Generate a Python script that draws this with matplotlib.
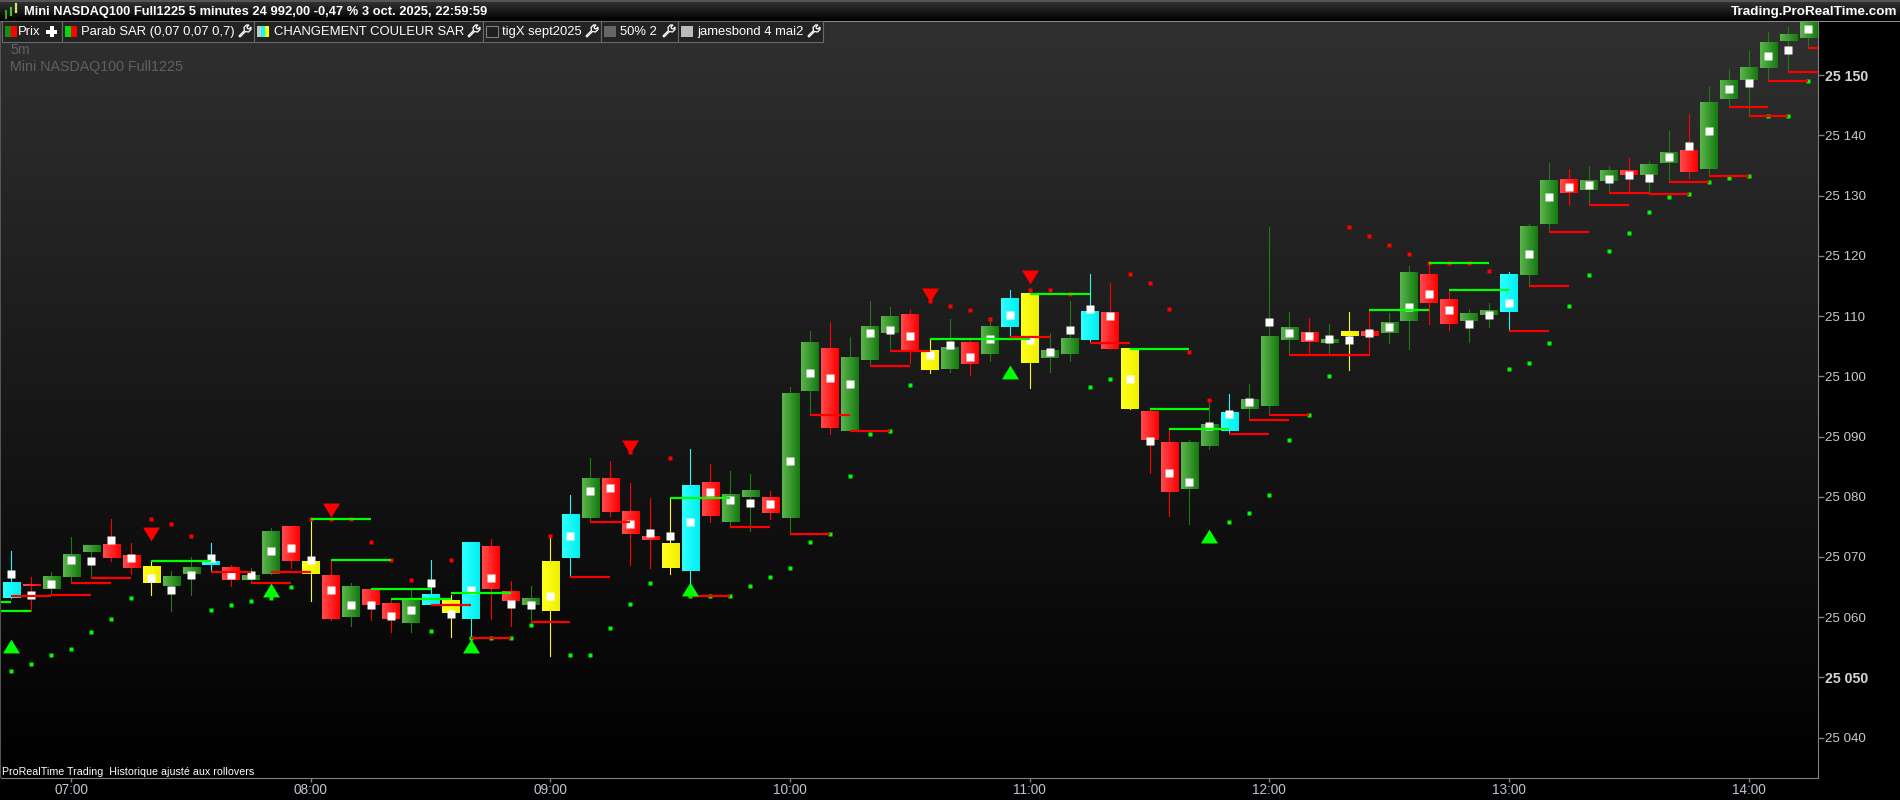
import numpy as np
import matplotlib
matplotlib.use('Agg')
import matplotlib.pyplot as plt
from matplotlib.colors import LinearSegmentedColormap
from matplotlib.patches import Polygon, Rectangle

plt.rcParams['font.family'] = ['Liberation Sans', 'DejaVu Sans']

# all prices are points above 25 000
base_price = 25000

colours = list('crggg' 'rrygg' 'crggr' 'yrgrr' 'gcycr' 'rgycg' 'rrryc' 'rggrg'
               'grggg' 'rygrg' 'cyggc' 'ryrrg' 'gcggg' 'rgyrg' 'grrgg' 'cggrg'
               'grggr' 'ggggg' 'g')
opens = [63.25, 65.5, 64.75, 66.75, 70.75, 72, 70.25, 68.5, 65.25, 67.25,
         68.75, 68.25, 66.25, 67.25, 75, 69.25, 67, 60, 64.5, 62.25,
         59, 62, 62.75, 59.75, 71.75, 64.25, 62, 69.25, 69.75, 76.5,
         83, 77.5, 73.25, 72.25, 67.75, 82.25, 75.75, 80, 79.75, 76.5,
         97.5, 104.75, 91, 102.75, 107.25, 110.25, 104.25, 101.25, 105.5, 103.75,
         108.25, 113.75, 103, 103.75, 106, 110.5, 104.5, 94.25, 89, 81.25,
         88.5, 91, 94.5, 95, 106, 107.25, 105.5, 107.5, 107.5, 107.25,
         109.25, 117, 112.75, 109.25, 110.25, 110.75, 116.75, 125.25, 132.75, 131,
         132.5, 134.25, 133.5, 135.5, 137.5, 134.5, 146, 149.25, 151.25, 155.75,
         156.25]
closes = [65.75, 65.25, 66.75, 70.5, 71.75, 69.75, 68.25, 65.75, 66.75, 68.25,
          69.25, 66.25, 67, 74.25, 69.25, 67.25, 59.75, 65, 62, 59.75,
          62.75, 63.75, 60.75, 72.5, 64.75, 62.75, 63, 61, 77, 83,
          77.5, 73.75, 72.75, 68.25, 82, 76.75, 80.25, 81, 77.25, 97.25,
          105.5, 91.5, 103.25, 108.25, 110, 104.25, 101, 104.75, 102, 108.25,
          113, 102.25, 104.25, 106.25, 110.75, 104.5, 94.5, 89.5, 80.75, 89,
          92, 94, 96, 106.5, 108, 105.75, 106, 106.75, 106.75, 109,
          117.25, 112.25, 108.75, 110.5, 111, 117, 124.75, 132.5, 130.5, 132.5,
          134.25, 133.5, 135.25, 137.25, 134, 145.5, 149, 151.25, 155.5, 156.75,
          159]
highs = [71, 66.75, 67.5, 73.25, 72, 76.25, 72.25, 69.25, 67.75, 70,
         72.25, 68.75, 68.25, 74.75, 75, 76.25, 69.25, 65.75, 64.5, 63,
         64.75, 69.5, 63.75, 72.5, 73, 66, 65.25, 73.5, 80.25, 86.5,
         86, 82.25, 79.75, 79.75, 88, 85.5, 84.25, 83.75, 81, 98.25,
         107.5, 109, 106.5, 112.5, 111.5, 111, 106, 109.5, 106, 109.5,
         114.25, 113.75, 107.25, 112.5, 117, 115.5, 104.5, 94.5, 91.25, 89.5,
         95.5, 97, 98.75, 124.75, 110.75, 109.75, 108.75, 110.75, 111, 110.5,
         118.25, 118.75, 114.25, 111.25, 112.25, 117.25, 125.25, 135.5, 134.5, 135,
         135, 136.25, 135.75, 140.75, 143.5, 148, 151, 154, 157.25, 158,
         159]
lows = [63.25, 61, 63.75, 65.75, 66.5, 69.25, 67.25, 63.75, 61, 63.75,
        67.75, 65.25, 65.75, 67.25, 68.25, 62.75, 59.5, 58.5, 59.5, 57.5,
        57.5, 62, 56.75, 56.25, 59.75, 58.5, 59.25, 53.5, 66.75, 75.75,
        76.75, 68.75, 68.25, 67.25, 65.25, 75.75, 75, 74.25, 76.25, 73.75,
        93.5, 90.5, 91, 101.75, 104.25, 102.25, 100.5, 100.75, 100.25, 102.5,
        106.5, 98, 100.75, 102.5, 105.75, 104.5, 94.5, 84, 76.75, 75.5,
        88, 90.5, 92.75, 93.5, 103.5, 103.75, 103.5, 101, 103.5, 105.5,
        104.5, 108.75, 107.75, 105.75, 108.25, 107.75, 115, 124, 128.5, 128.5,
        130.5, 130.5, 130.25, 132.25, 133, 133.25, 144.75, 143.25, 149, 150.5,
        154.5]
white_marks = [67.25, 63.75, 65.5, 69.5, 69.25, 72.75, 69.75, 66.5, 64.5, 67,
               69.75, 67, 67, 71, 71.5, 69.5, 64.5, 62, 62, 60.25,
               61.25, 65.75, 60.5, 64.5, 66.5, 62.25, 62, 63.5, 73.5, 81,
               81.5, 75.5, 74, 73.5, 75.75, 80.75, 79.5, 79, 78.75, 86,
               100.5, 99.75, 98.75, 107.25, 107.75, 106.75, 103.5, 105.25, 103.25, 106.25,
               110.25, 106, 104, 107.75, 111.25, 110, 99.5, 89.25, 84, 82.5,
               91.75, 93.75, 95.75, 109, 107.25, 106.75, 106.25, 106, 107.25, 108.25,
               111.5, 113.75, 111, 108.75, 110.25, 112.25, 120.25, 129.75, 131.5, 131.75,
               132.75, 133.5, 133, 136.5, 138.25, 140.75, 147.75, 148.75, 153.25, 154.25,
               157.75]

sar_up_idx = [0, 1, 2, 3, 4, 5, 6, 10, 11, 12, 13, 14, 21, 23, 24, 25, 26, 28, 29, 30,
              31, 32, 34, 35, 36, 37, 38, 39, 40, 41, 42, 43, 44, 45, 54, 55, 61, 62, 63, 64,
              65, 66, 75, 76, 77, 78, 79, 80, 81, 82, 83, 84, 85, 86, 87, 88, 89, 90]
sar_up = [51, 52.25, 53.75, 54.75, 57.5, 59.75, 63.25, 61.25, 62, 62.75, 63.25, 65, 57.75, 56.5, 56.5, 56.5, 58.75, 53.75, 53.75, 58.25,
          62.25, 65.75, 63.5, 63.5, 63.5, 65.25, 66.75, 68.25, 72.5, 73.75, 83.5, 90.5, 91, 98.5, 98.25, 99.5, 75.75, 77.25, 80.25, 89.5,
          93.5, 100, 101.25, 102.25, 105.5, 111.75, 116.75, 120.75, 123.75, 127.25, 129.75, 130.25, 132.25, 133, 133.25, 143.25, 143.25, 149]
sar_down_idx = [7, 8, 9, 15, 16, 17, 18, 19, 20, 22, 27, 31, 33, 46, 47, 48, 49, 51, 52, 53,
                56, 57, 58, 59, 60, 67, 68, 69, 70, 71, 72, 73, 74]
sar_down = [76.25, 75.5, 73.5, 76.25, 76.25, 76.25, 72.5, 69.5, 66.25, 69.5, 73.5, 87.5, 86.5, 112.5, 111.75, 111, 109.5, 114.25, 114.25, 113.75,
            117, 115.5, 111.25, 104, 96, 124.75, 123.25, 121.75, 120.25, 118.75, 118.75, 118.75, 117.5]

green_start = [-1, -1, 7, 15, 16, 18, 19, 22, 33, 46, 51, 56, 57, 58, 68, 71, 72]
green_stop = [0, 1, 10, 18, 19, 21, 22, 25, 36, 51, 54, 59, 60, 61, 71, 74, 75]
green_level = [62.5, 61, 69.25, 76.25, 69.5, 64.75, 63, 64, 79.75, 106.25, 113.75, 104.5, 94.5, 91.25, 111, 118.75, 114.25]
red_start = [0, 2, 3, 4, 10, 12, 13, 21, 23, 26, 28, 29, 34, 36, 39, 40, 42, 43, 44, 50, 54,
             61, 62, 63, 64, 75, 76, 77, 79, 80, 82, 83, 85, 86, 87, 88, 89, 90]
red_stop = [2, 4, 5, 6, 12, 14, 15, 23, 25, 28, 30, 31, 36, 38, 41, 42, 44, 45, 46, 52, 56,
            63, 64, 65, 68, 77, 78, 79, 81, 82, 84, 85, 87, 88, 89, 90, 91, 92]
red_level = [63.5, 63.75, 65.75, 66.5, 67.5, 65.75, 67.5, 62, 56.5, 59.25, 66.75, 75.75, 63.5, 75, 73.75, 93.5, 91, 101.75, 104.25, 106.5, 105.5,
             90.5, 92.75, 93.5, 103.5, 107.5, 115, 124, 128.5, 130.5, 130.25, 132.25, 133.25, 144.75, 143.25, 149, 150.5, 154.5]

arrow_up_idx = [0, 13, 23, 34, 50, 60]
arrow_up = [55.25, 64.5, 55.25, 64.75, 100.75, 73.5]
arrow_down_idx = [7, 16, 31, 46, 51]
arrow_down = [73.75, 77.75, 88.25, 113.5, 116.5]

time_ticks = [3, 15, 27, 39, 51, 63, 75, 87]
time_labels = ['07:00', '08:00', '09:00', '10:00', '11:00', '12:00', '13:00', '14:00']
price_ticks = [25040, 25050, 25060, 25070, 25080, 25090, 25100, 25110, 25120, 25130, 25140, 25150]

body_maps = {
    'g': LinearSegmentedColormap.from_list('g', ['#5cb54c', '#147a10']),
    'r': LinearSegmentedColormap.from_list('r', ['#ff4a4a', '#ff0000']),
    'c': LinearSegmentedColormap.from_list('c', ['#30ffff', '#00f0f0']),
    'y': LinearSegmentedColormap.from_list('y', ['#ffff20', '#f0f000']),
}
wick_colours = {'g': '#1f7a12', 'r': '#ff0000', 'c': '#30f0f0', 'y': '#f8f830'}
gradient = np.linspace(0, 1, 32).reshape(1, -1)

fig = plt.figure(figsize=(19, 8), dpi=100, facecolor='black')
ax = fig.add_axes([1 / 1900, 22 / 800, 1817 / 1900, 757 / 800], facecolor='black')

xlim = (-0.52, 90.48)
ylim = (25033.3, 25159)

ax.imshow(np.linspace(1, 0, 256).reshape(-1, 1), extent=(xlim[0], xlim[1], ylim[0], ylim[1]),
          aspect='auto', cmap=LinearSegmentedColormap.from_list('bg', ['#000000', '#303030']),
          vmin=0, vmax=1, zorder=0)

for i, c in enumerate(colours):
    op = opens[i] + base_price
    cl = closes[i] + base_price
    ax.plot([i, i], [lows[i] + base_price, highs[i] + base_price], color=wick_colours[c], lw=0.8, zorder=2)
    ax.imshow(gradient, extent=(i - 0.43, i + 0.43, min(op, cl), max(op, cl)), aspect='auto',
              cmap=body_maps[c], zorder=3, interpolation='bilinear')

ax.plot(range(len(white_marks)), np.array(white_marks) + base_price, ls='none', marker='s', ms=5.6,
        mec='none', color='white', zorder=4)
ax.plot(sar_up_idx, np.array(sar_up) + base_price, ls='none', marker='s', ms=3.4, mec='none', color='#00ff00', zorder=5)
ax.plot(sar_down_idx, np.array(sar_down) + base_price, ls='none', marker='s', ms=3.4, mec='none', color='#ff0000', zorder=5)

for a, b, lv in zip(green_start, green_stop, green_level):
    ax.plot([a, b], [lv + base_price] * 2, color='#00ff00', lw=1.6, solid_capstyle='butt', zorder=6)
for a, b, lv in zip(red_start, red_stop, red_level):
    ax.plot([a, b], [lv + base_price] * 2, color='#ff0000', lw=1.6, solid_capstyle='butt', zorder=6)

up_shape = [(-1, -0.82), (1, -0.82), (0, 0.82)]
down_shape = [(-1, 0.82), (1, 0.82), (0, -0.82)]
ax.plot(arrow_up_idx, np.array(arrow_up) + base_price, ls='none', marker=up_shape, ms=12.2, mec='none', color='#00ff00', zorder=7)
ax.plot(arrow_down_idx, np.array(arrow_down) + base_price, ls='none', marker=down_shape, ms=12.2, mec='none', color='#ff0000', zorder=7)

ax.set_xlim(xlim)
ax.set_ylim(ylim)
ax.set_xticks(time_ticks)
ax.set_xticklabels(time_labels)
ax.set_yticks(price_ticks)
ax.set_yticklabels([f'25 {p - 25000:03d}' for p in price_ticks])
ax.yaxis.tick_right()
ax.tick_params(axis='x', colors='#808080', length=3, width=1, pad=0.6, labelsize=9.8, labelcolor='#bcc6d0')
ax.tick_params(axis='y', colors='#808080', length=4.5, width=1, pad=0.6, labelsize=9.6, labelcolor='#c8c8c8')
for lab, p in zip(ax.get_yticklabels(), price_ticks):
    if p in (25050, 25150):
        lab.set_fontweight('bold')
        lab.set_fontsize(10.2)
        lab.set_color('#d4d4d4')
for side in ('left', 'top'):
    ax.spines[side].set_visible(False)
for side in ('right', 'bottom'):
    ax.spines[side].set_color('#808080')

# window furniture, laid out in screen pixels
ui = fig.add_axes([0, 0, 1, 1], facecolor='none', zorder=10)
ui.axis('off')
ui.imshow(np.linspace(0, 1, 32).reshape(-1, 1), extent=(0, 1900, 21, 1), aspect='auto',
          cmap=LinearSegmentedColormap.from_list('hd', ['#333333', '#000000']))
ui.add_patch(Rectangle((0, 0), 1900, 1.5, color='#555555', lw=0))
ui.add_patch(Rectangle((0, 20.5), 1900, 1, color='#8a8a8a', lw=0))
ui.add_patch(Rectangle((0, 21), 1, 757, color='#555555', lw=0))
ui.set_xlim(0, 1900)
ui.set_ylim(800, 0)

# little candle logo
ui.plot([6, 6], [11, 18], color='#2e9e28', lw=1.6)
ui.plot([11, 11], [8, 15], color='#50c040', lw=1.6)
ui.plot([16, 16], [4, 12], color='#d8e070', lw=1.6)

ui.text(24, 11.5, 'Mini NASDAQ100 Full1225 5 minutes 24 992,00 -0,47 % 3 oct. 2025, 22:59:59',
        color='white', fontsize=9.25, fontweight='bold', va='center', ha='left')
ui.text(1897, 11.5, 'Trading.ProRealTime.com', color='white', fontsize=9.7, fontweight='bold', va='center', ha='right')

box_edges = [2, 62, 254, 483, 601, 678, 823]
box_text = ['Prix', 'Parab SAR (0,07 0,07 0,7)', 'CHANGEMENT COULEUR SAR', 'tigX sept2025', '50% 2', 'jamesbond 4 mai2']
box_text_x = [18, 81, 274, 502, 620, 697]
box_swatch = [['#1a8a14', '#ff0000'], ['#00e000', '#ff0000'], ['#c8c8c8', '#00ffff', '#ffff00'], ['#1f1f1f'], ['#666666'], ['#bbbbbb']]


def wrench(x, y):
    pts = [(1, 12), (0, 11), (5.5, 5.5), (5, 2.5), (7.5, 0), (10, 0), (8, 2), (8.5, 3.5), (10, 4), (12, 2), (12, 4.5),
           (9.5, 7), (6.5, 6.5)]
    ui.add_patch(Polygon([(x + a, y + b) for a, b in pts], closed=True, fc='#222222', ec='white', lw=0.9))


for k, label in enumerate(box_text):
    ui.add_patch(Rectangle((box_edges[k], 21), box_edges[k + 1] - box_edges[k], 20.5, fc='#232323', ec='#6a6a6a', lw=0.8))
    sw = box_swatch[k]
    step = 12 / len(sw)
    for j, col in enumerate(sw):
        ui.add_patch(Rectangle((box_edges[k] + 3 + j * step, 25.5), step, 11.5, color=col, lw=0))
    if k == 3:
        ui.add_patch(Rectangle((box_edges[k] + 3, 25.5), 12, 11.5, fc='#1f1f1f', ec='#808080', lw=0.8))
    ui.text(box_text_x[k], 32, label, color='white', fontsize=9.4, va='center', ha='left')
    if k == 0:
        ui.add_patch(Rectangle((46, 29.5), 11, 4, color='white', lw=0))
        ui.add_patch(Rectangle((49.5, 26), 4, 11, color='white', lw=0))
    else:
        wrench(box_edges[k + 1] - 15, 25)

ui.text(10, 50.5, '5m', color='#606060', fontsize=10.3, va='center', ha='left')
ui.text(10, 66.5, 'Mini NASDAQ100 Full1225', color='#606060', fontsize=10.3, va='center', ha='left')
ui.text(2, 772, 'ProRealTime Trading  Historique ajusté aux rollovers', color='white', fontsize=7.65, va='center', ha='left')

fig.savefig('out.png', dpi=100, facecolor='black')
